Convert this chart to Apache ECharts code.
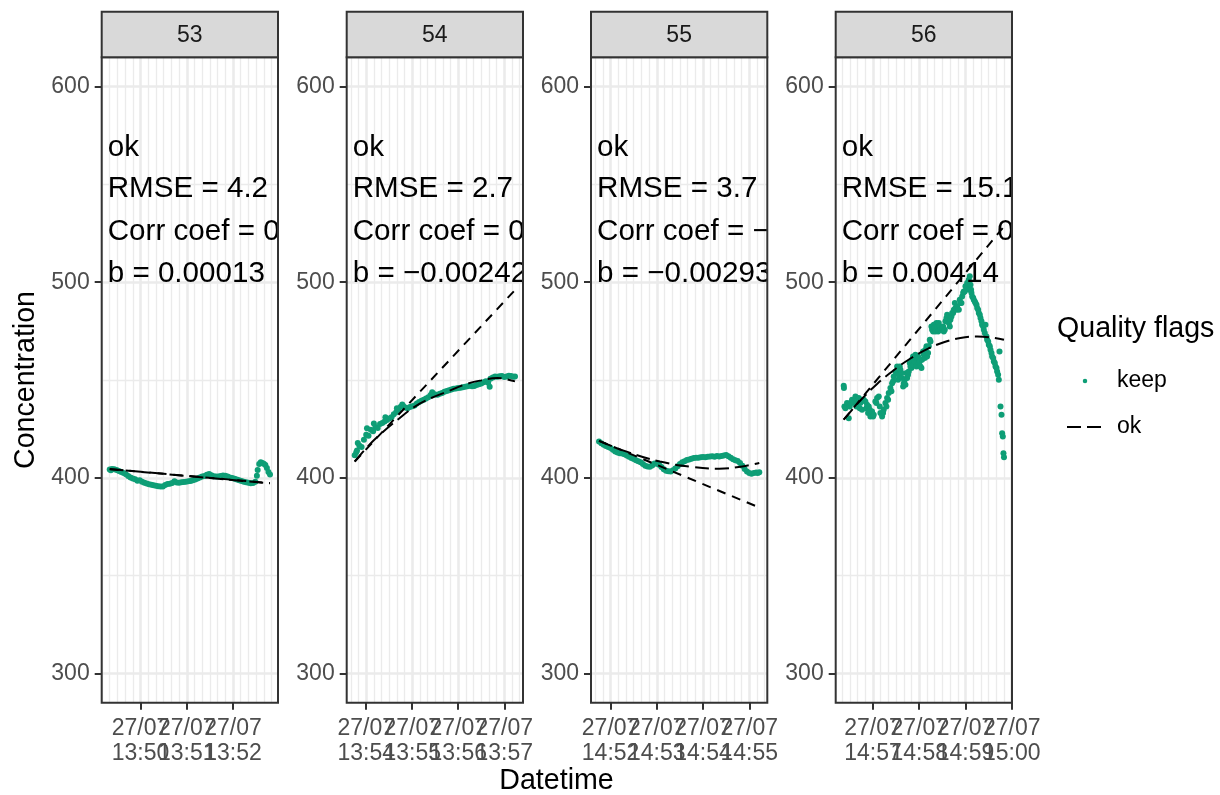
<!DOCTYPE html>
<html><head><meta charset="utf-8">
<script src="https://cdn.jsdelivr.net/npm/echarts@6/dist/echarts.min.js"></script>
<style>html,body{margin:0;padding:0;background:#fff}#c{width:1220px;height:795px}</style>
</head><body><div id="c"></div>
<script>
// ---------------- data ----------------
const panelNames = ["53", "54", "55", "56"];
const dateLabel = "27/07";
const yTicks = [300, 400, 500, 600];
const yMinorTicks = [350, 450, 550];
const yLimits = [300, 600];
const noteY = [568.5, 547.5, 526, 504.5];
const seriesKeep = "keep";
const seriesFit = "ok";

const p53Start = "13:49:20";
const p53Points = [[0,404.2],[1.5,403.9],[3,404.5],[6,404.4],[9,404.0],[12,403.5],[15,403.0],[18,402.5],[21,401.8],[24,400.9],[27,400.2],[30,399.6],[33,399.3],[36,398.5],[39,398.7],[42,398.0],[45,397.4],[48,397.1],[51,396.7],[54,396.5],[57,396.2],[60,395.9],[63,395.7],[66,395.5],[69,395.6],[72,396.3],[75,396.8],[78,397.0],[81,397.3],[84,398.2],[87,397.6],[90,397.5],[93,397.7],[96,397.8],[99,398.0],[102,398.2],[105,398.4],[108,398.7],[111,399.1],[114,399.6],[117,400.2],[120,400.6],[123,400.9],[126,401.5],[129,401.9],[132,401.3],[135,400.8],[138,400.6],[141,400.6],[144,400.9],[147,401.2],[150,401.0],[153,400.7],[156,400.2],[159,399.9],[162,399.5],[165,399.1],[168,398.7],[171,398.4],[174,398.0],[177,397.7],[180,397.4],[183,397.2],[186,397.3],[189,398.0],[191,401.0],[192,404.0],[194,407.0],[196,407.9],[198,407.6],[200,407.2],[202,406.5],[204,405.0],[206,403.0],[208,401.7]];
const p53LinSec = [0, 208];
const p53LinFit = [404.4, 397.3];
const p53CurveSec = [0, 104, 208];
const p53CurveFit = [404.5, 400.8, 397.2];
const p53Ticks = ["13:50", "13:51", "13:52"];
const p53Notes = ["ok", "RMSE = 4.2", "Corr coef = 0", "b = 0.00013"];

const p54Start = "13:53:45";
const p54Points = [[0,411.5],[2,413.0],[3,414.0],[4,417.8],[6,416.5],[9,415.8],[12,419.5],[15,422.0],[16,425.3],[18,421.5],[21,424.5],[24,423.8],[25,427.8],[27,426.0],[30,425.5],[33,427.5],[36,428.0],[39,428.8],[40,431.0],[42,429.5],[45,430.3],[48,431.0],[51,432.5],[54,433.5],[55,435.5],[57,434.8],[60,436.3],[62,437.5],[63,436.8],[66,436.0],[69,435.6],[72,436.2],[75,436.6],[78,437.0],[81,438.0],[84,438.8],[87,439.4],[90,439.9],[93,440.5],[96,441.2],[99,442.3],[101,443.8],[102,443.1],[105,442.6],[108,442.4],[111,443.0],[114,443.4],[117,444.0],[120,444.4],[123,444.8],[126,445.1],[129,445.5],[132,445.7],[135,445.9],[138,446.0],[141,446.3],[144,446.5],[147,446.8],[150,447.0],[153,446.8],[156,446.9],[159,447.4],[162,447.8],[165,448.2],[168,448.9],[171,449.4],[174,448.6],[176,446.5],[177,450.6],[180,451.3],[183,451.8],[186,451.7],[189,451.9],[192,452.1],[195,451.5],[198,451.8],[201,452.2],[204,452.0],[207,451.6],[209,451.8]];
const p54LinSec = [0, 209];
const p54LinFit = [408.3, 496.0];
const p54CurveSec = [0, 17, 35, 56, 78, 100, 121, 143, 165, 186, 209];
const p54CurveFit = [408.3, 416.0, 422.8, 429.7, 436.3, 440.8, 444.1, 447.6, 449.8, 451.0, 449.3];
const p54Ticks = ["13:54", "13:55", "13:56", "13:57"];
const p54Notes = ["ok", "RMSE = 2.7", "Corr coef = 0", "b = \u22120.00242"];

const p55Start = "14:51:45";
const p55Points = [[0,418.6],[3,417.6],[6,416.9],[9,416.3],[12,415.8],[15,415.2],[18,414.3],[21,413.4],[24,412.9],[27,412.6],[30,412.4],[33,412.0],[36,411.4],[39,410.7],[42,410.1],[45,409.6],[48,409.0],[51,408.4],[54,407.9],[57,407.0],[60,406.2],[63,405.8],[66,405.6],[69,406.3],[72,407.3],[75,407.2],[78,406.7],[81,405.5],[84,404.4],[87,403.6],[90,403.3],[93,403.2],[96,403.8],[99,404.8],[102,405.9],[105,407.0],[108,407.9],[111,408.5],[114,409.1],[117,409.4],[120,409.7],[123,410.1],[126,410.2],[129,410.3],[132,410.5],[135,410.6],[138,410.5],[141,410.7],[144,410.9],[147,411.0],[150,410.8],[153,411.2],[156,410.9],[159,411.1],[162,411.4],[165,411.6],[168,411.0],[171,410.3],[174,409.5],[177,409.0],[180,408.6],[183,407.6],[186,406.2],[189,404.5],[192,403.2],[195,402.5],[198,402.1],[201,402.4],[204,402.7],[206,402.5],[208,402.8]];
const p55LinSec = [0, 208];
const p55LinFit = [418.9, 384.8];
const p55CurveSec = [0, 35, 79, 122, 156, 186, 208];
const p55CurveFit = [418.9, 413.5, 408.3, 405.5, 404.6, 405.8, 407.6];
const p55Ticks = ["14:52", "14:53", "14:54", "14:55"];
const p55Notes = ["ok", "RMSE = 3.7", "Corr coef = \u2212", "b = \u22120.00293"];

const p56Start = "14:56:22";
const p56Points = [[0,447.1],[0.3,445.9],[0.9,436.5],[2.2,435.6],[4.3,438.2],[6.5,430.5],[7.8,436.5],[8.7,438.2],[10.8,439.9],[13,438.2],[15.2,441.6],[16.5,436.5],[17.3,439.0],[19.5,440.8],[20.8,435.6],[21.6,438.2],[22.5,439.9],[23.8,434.8],[26,439.9],[28.1,439.0],[29.4,435.6],[30.3,437.3],[31.6,433.1],[32.5,436.5],[33.8,434.8],[34.6,431.4],[36.8,433.9],[38.1,431.4],[39,432.2],[41.1,439.0],[42.4,438.2],[43.3,440.8],[45.5,441.6],[46.8,436.5],[47.6,433.1],[49.8,431.4],[51.1,433.1],[51.9,434.8],[54.1,438.2],[55.4,436.5],[56.3,440.8],[57.6,439.9],[58.4,443.3],[60.6,445.9],[61.9,444.2],[62.8,448.4],[64.1,449.3],[64.9,451.8],[67.1,454.4],[68.4,453.6],[69.3,456.9],[70.5,450.1],[71.4,452.7],[72.7,456.9],[73.6,455.2],[74.9,453.6],[75.8,451.0],[77.1,446.7],[77.9,448.4],[79.2,450.1],[80.1,447.6],[81.4,453.6],[82.3,451.0],[83.5,452.7],[84.4,454.4],[85.7,458.7],[86.6,456.9],[87.9,456.1],[88.7,460.4],[90,462.0],[90.9,457.8],[92.2,459.5],[93.1,462.9],[94.4,456.9],[95.2,461.2],[96.5,462.0],[97.4,458.7],[98.7,459.5],[99.6,456.9],[100.9,456.1],[101.7,460.4],[103,464.6],[103.9,462.9],[105.2,461.2],[106.1,465.5],[107.4,467.2],[108.2,462.0],[109.5,463.8],[110.4,467.2],[111.7,470.6],[112.6,469.7],[113.8,477.4],[114.7,475.7],[116,474.8],[116.9,478.3],[118.2,476.6],[119,474.8],[120.3,479.1],[121.2,477.4],[122.5,474.8],[123.4,479.1],[124.7,477.4],[125.5,475.7],[127.7,476.6],[129,477.4],[129.9,474.8],[131.2,475.7],[132,480.0],[133.3,481.7],[134.2,483.4],[136.4,479.1],[137.7,477.4],[138.5,480.8],[139.8,482.5],[140.7,484.2],[142,484.2],[142.9,485.9],[144.2,489.4],[145,486.8],[146.3,485.9],[147.2,487.6],[149.4,485.9],[150.6,491.0],[151.5,489.4],[152.8,489.4],[153.7,492.7],[155,494.5],[155.8,495.3],[157.1,495.3],[158,497.9],[159.3,497.0],[160.2,499.6],[161.4,499.6],[162.3,501.3],[162.8,496.2],[163.6,503.0],[164.5,498.7],[165.3,496.2],[165.8,494.5],[166.7,492.7],[168,492.0],[168.8,491.0],[170.1,490.2],[171,489.4],[172.3,488.5],[173.2,486.8],[174.5,485.9],[175.3,484.2],[176.6,483.4],[177.5,481.7],[178.8,480.0],[179.6,478.3],[181,477.4],[181.8,475.7],[183.1,474.0],[184,478.3],[185.3,472.3],[186.1,470.6],[187.5,469.7],[188.3,468.0],[189.6,467.2],[190.5,465.5],[191.8,463.8],[192.6,462.0],[193.9,461.2],[194.8,459.5],[196.1,458.7],[197,456.9],[198.3,456.1],[199.1,454.4],[200.4,452.7],[201.3,450.1],[202.2,464.6],[203.5,436.5],[204.8,432.2],[205.6,422.8],[206.5,421.1],[207.3,412.6],[208,410.5]];
const p56LinSec = [0, 208];
const p56LinFit = [429.7, 528.5];
const p56CurveSec = [0, 21.6, 43.3, 64.9, 86.6, 108.2, 129.9, 151.5, 173.2, 194.8, 208];
const p56CurveFit = [429.7, 439.5, 448.0, 455.0, 461.0, 465.8, 469.3, 471.5, 472.2, 471.6, 470.6];
const p56Ticks = ["14:57", "14:58", "14:59", "15:00"];
const p56Notes = ["ok", "RMSE = 15.1", "Corr coef = 0", "b = 0.00414"];

// ---------------- build ----------------
const FONT = '"Liberation Sans", Arial, Helvetica, sans-serif';
const GREEN = '#0E9E76';
const panels = [
  {start: p53Start, pts: p53Points, ls: p53LinSec, lf: p53LinFit, cs: p53CurveSec, cf: p53CurveFit, ticks: p53Ticks, notes: p53Notes},
  {start: p54Start, pts: p54Points, ls: p54LinSec, lf: p54LinFit, cs: p54CurveSec, cf: p54CurveFit, ticks: p54Ticks, notes: p54Notes},
  {start: p55Start, pts: p55Points, ls: p55LinSec, lf: p55LinFit, cs: p55CurveSec, cf: p55CurveFit, ticks: p55Ticks, notes: p55Notes},
  {start: p56Start, pts: p56Points, ls: p56LinSec, lf: p56LinFit, cs: p56CurveSec, cf: p56CurveFit, ticks: p56Ticks, notes: p56Notes}
];
function toSec(s) { const a = s.split(':').map(Number); return a[0]*3600 + a[1]*60 + (a[2] || 0); }
function pad(n) { return (n < 10 ? '0' : '') + n; }
function fmtHM(v) { const m = Math.round(v/60); return pad(Math.floor(m/60)) + ':' + pad(m % 60); }

const gridLefts = [101.7, 346.7, 591, 835.7];
const gridW = 176.3, gridTop = 57.3, gridH = 645.4;
const yPad = (yLimits[1]-yLimits[0]) * 0.05;
const labelMargin = 14;

function labelStyle(values, extra) {
  return Object.assign({show: true, customValues: values, color: '#4D4D4D', fontSize: 23, fontFamily: FONT,
    lineHeight: 24.5, margin: labelMargin, showMinLabel: true, showMaxLabel: true, hideOverlap: false,
    formatter: v => dateLabel + '\n' + fmtHM(v)}, extra || {});
}

const grids = [], xAxes = [], yAxes = [], series = [], graphics = [];
panels.forEach((p, i) => {
  const t0 = toSec(p.start);
  const xs = p.pts.map(d => t0 + d[0]);
  const xmin = Math.min.apply(null, xs), xmax = Math.max.apply(null, xs);
  const xp = (xmax - xmin) * 0.05;
  const xr = [xmin - xp, xmax + xp];
  grids.push({left: gridLefts[i], top: gridTop, width: gridW, height: gridH, show: false});
  const majorX = p.ticks.map(toSec);
  const labelsA = majorX.filter((v, k) => k % 2 === 0);
  const labelsB = majorX.filter((v, k) => k % 2 === 1);
  const minorX = [];
  for (let v = Math.ceil(xr[0]/10)*10; v <= xr[1]; v += 10) minorX.push(v);
  xAxes[i] = {type: 'value', gridIndex: i, position: 'bottom', min: xr[0], max: xr[1],
    axisLine: {show: false},
    axisTick: {show: true, length: 7, lineStyle: {color: '#333333', width: 2}, customValues: majorX},
    axisLabel: labelStyle(labelsA),
    splitLine: {show: true, lineStyle: {color: '#EBEBEB', width: 2.5}}};
  xAxes[4+i] = {type: 'value', gridIndex: i, position: 'top', min: xr[0], max: xr[1],
    axisLine: {show: false},
    axisLabel: labelStyle(labelsB, {inside: true, margin: gridH + labelMargin, verticalAlign: 'top'}),
    axisTick: {show: false, customValues: minorX},
    splitLine: {show: true, lineStyle: {color: '#EBEBEB', width: 1.3}}};
  yAxes[i] = {type: 'value', gridIndex: i, position: 'left', min: yLimits[0]-yPad, max: yLimits[1]+yPad,
    axisLine: {show: false},
    axisTick: {show: true, length: 7, lineStyle: {color: '#333333', width: 2}, customValues: yTicks},
    axisLabel: {show: true, customValues: yTicks, color: '#4D4D4D', fontSize: 23, fontFamily: FONT, margin: 12,
      showMinLabel: true, showMaxLabel: true, hideOverlap: false},
    splitLine: {show: true, lineStyle: {color: '#EBEBEB', width: 2.5}}};
  yAxes[4+i] = {type: 'value', gridIndex: i, position: 'right', min: yLimits[0]-yPad, max: yLimits[1]+yPad,
    axisLine: {show: false}, axisLabel: {show: false},
    axisTick: {show: false, customValues: yMinorTicks},
    splitLine: {show: true, lineStyle: {color: '#EBEBEB', width: 1.3}}};

  series.push({name: seriesKeep, type: 'scatter', xAxisIndex: i, yAxisIndex: i,
    data: p.pts.map(d => [t0 + d[0], d[1]]), symbolSize: 6, itemStyle: {color: GREEN, opacity: 1},
    silent: true, z: 3});
  series.push({name: seriesFit, type: 'line', xAxisIndex: i, yAxisIndex: i, smooth: 0.4,
    data: p.cs.map((s, k) => [t0 + s, p.cf[k]]), showSymbol: false, symbol: 'none',
    lineStyle: {color: '#000', width: 2, type: [14, 6]}, itemStyle: {color: '#000'}, silent: true, z: 4});
  series.push({name: seriesFit, type: 'line', xAxisIndex: i, yAxisIndex: i,
    data: p.ls.map((s, k) => [t0 + s, p.lf[k]]), showSymbol: false, symbol: 'none',
    lineStyle: {color: '#000', width: 2, type: [9, 7]}, itemStyle: {color: '#000'}, silent: true, z: 4});
  const notes = p.notes;
  series.push({type: 'custom', xAxisIndex: i, yAxisIndex: i, clip: true, silent: true, z: 5,
    data: notes.map((t, k) => [xmin, noteY[k], k]),
    encode: {x: 0, y: 1},
    renderItem: (params, api) => {
      const c = api.coord([api.value(0), api.value(1)]);
      return {type: 'text', x: c[0] - 2, y: c[1], style: {text: notes[api.value(2)], fill: '#000',
        font: '29.6px ' + FONT, align: 'left', verticalAlign: 'middle', textAlign: 'left', textVerticalAlign: 'middle'}};
    }});

  graphics.push({type: 'rect', z: 60, shape: {x: gridLefts[i], y: gridTop, width: gridW, height: gridH},
    style: {fill: 'none', stroke: '#333333', lineWidth: 2}});
  graphics.push({type: 'rect', z: 60, shape: {x: gridLefts[i], y: 11.7, width: gridW, height: 45.6},
    style: {fill: '#D9D9D9', stroke: '#333333', lineWidth: 2}});
  graphics.push({type: 'text', z: 61, x: gridLefts[i] + gridW/2, y: 36,
    style: {text: panelNames[i], fill: '#1A1A1A', font: '23px ' + FONT, align: 'center', verticalAlign: 'middle'}});
});

graphics.push({type: 'text', x: 556.5, y: 781, style: {text: 'Datetime', fill: '#000', font: '28.6px ' + FONT, align: 'center', verticalAlign: 'middle'}});
graphics.push({type: 'text', x: 26, y: 380, rotation: Math.PI/2, style: {text: 'Concentration', fill: '#000', font: '28.6px ' + FONT, align: 'center', verticalAlign: 'middle'}});
graphics.push({type: 'text', x: 1057, y: 329.5, style: {text: 'Quality flags', fill: '#000', font: '28.6px ' + FONT, align: 'left', verticalAlign: 'middle'}});

const chart = echarts.init(document.getElementById('c'), null, {renderer: 'canvas'});
chart.setOption({
  animation: false,
  backgroundColor: '#fff',
  grid: grids, xAxis: xAxes, yAxis: yAxes, series: series,
  legend: {data: [{name: seriesKeep, icon: 'circle'}, {name: seriesFit, itemStyle: {color: 'rgba(0,0,0,0)', borderWidth: 0, opacity: 0}}],
    orient: 'vertical', left: 1061, top: 364, itemWidth: 36, itemHeight: 4.5, itemGap: 22,
    selectedMode: false,
    textStyle: {fontSize: 23, color: '#000', fontFamily: FONT, lineHeight: 24, padding: [0, 0, 0, 9]}},
  graphic: graphics
});
</script></body></html>
